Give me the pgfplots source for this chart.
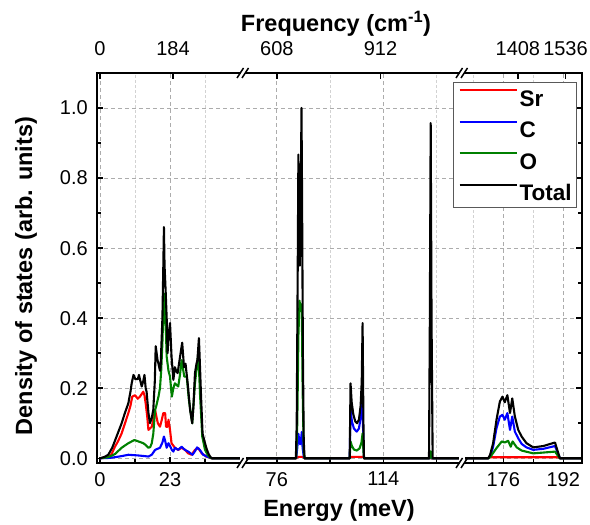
\documentclass[border=0pt]{standalone}
\usepackage{fontspec}
\setmainfont{Liberation Sans}
\usepackage{pgfplots}
\pgfplotsset{compat=1.18}
\definecolor{dosSr}{RGB}{255,0,0}
\definecolor{dosC}{RGB}{0,0,255}
\definecolor{dosO}{RGB}{0,128,0}
\pgfplotsset{
  seg/.style={
    scale only axis, height=390pt, ymin=-0.0135, ymax=1.1,
    anchor=south west,
    axis line style={draw=none},
    xtick pos=left,
    tick align=inside,
    major tick length=6pt, minor tick length=4pt,
    tick style={black, line width=1.5pt},
    ytick={0,0.2,0.4,0.6,0.8,1.0},
    minor ytick={0.1,0.3,0.5,0.7,0.9},
    xmajorgrids, ymajorgrids, xminorgrids,
    major grid style={gray!65, line width=0.8pt, dash pattern=on 4pt off 3pt},
    minor grid style={gray!35, line width=0.8pt, dash pattern=on 3pt off 2pt},
    tick label style={font=\fontsize{20}{24}\selectfont},
    xticklabel style={inner sep=0pt, yshift=-9pt},
    yticklabel style={inner sep=0pt, xshift=-9pt},
    every axis plot/.append style={line width=2.1pt, line join=round},
  },
  topax/.style={
    scale only axis, height=390pt, ymin=-0.0135, ymax=1.1,
    anchor=south west,
    axis line style={draw=none},
    xtick pos=right, xticklabel pos=right,
    ytick=\empty,
    tick align=inside,
    major tick length=6pt,
    tick style={black, line width=1.5pt},
    tick label style={font=\fontsize{20}{24}\selectfont},
    xticklabel style={inner sep=0pt, yshift=17pt},
  },
}
\begin{document}
\begin{tikzpicture}
\useasboundingbox (0,0) rectangle (590pt,525pt);
% ---------------- segment 1 ----------------
\begin{axis}[seg, name=s1, at={(97pt,62pt)}, width=143pt,
  xmin=-1, xmax=46, xtick={0,23}, xticklabels={0,23},
  minor xtick={11.5,34.5},
  ytick pos=left, yticklabels={0.0,0.2,0.4,0.6,0.8,1.0}]
\addplot[dosSr] coordinates {(0,0) (1.5,0.001) (2.7,0.003) (3.8,0.012) (4.9,0.033) (6,0.05) (7.1,0.071) (8.2,0.10) (9.3,0.129) (10.0,0.15) (10.6,0.176) (11.5,0.18) (12.4,0.17) (13.1,0.176) (14.2,0.19) (14.6,0.18) (15.0,0.157) (15.5,0.12) (15.9,0.081) (16.4,0.085) (17.0,0.09) (17.5,0.11) (18.1,0.138) (18.5,0.12) (19.0,0.10) (19.7,0.09) (20.3,0.11) (20.8,0.129) (21.4,0.129) (21.7,0.09) (22.2,0.09) (22.5,0.11) (23.0,0.081) (23.5,0.043) (24.6,0.03) (25.7,0.024) (26.8,0.03) (27.9,0.024) (29.0,0.014) (30.1,0.01) (31.2,0.024) (32.3,0.029) (33.4,0.014) (35.0,0.005) (36.2,0.001) (36.8,0) (46,0)};
\addplot[dosC] coordinates {(0,0) (3,0.001) (4.9,0.003) (7,0.006) (9.3,0.01) (12.6,0.008) (15.9,0.005) (17.0,0.01) (18.1,0.024) (19.7,0.03) (20.5,0.045) (21.0,0.062) (21.4,0.05) (21.9,0.03) (22.5,0.043) (23.0,0.035) (23.6,0.024) (24.1,0.019) (24.6,0.03) (25.7,0.024) (26.8,0.033) (27.9,0.024) (29.0,0.019) (30.4,0.01) (31.2,0.02) (31.9,0.031) (32.8,0.024) (33.9,0.01) (35.6,0.003) (36.8,0) (46,0)};
\addplot[dosO] coordinates {(0,0) (2.7,0.003) (4.9,0.012) (7.1,0.03) (9.3,0.043) (10.4,0.048) (11.3,0.052) (12.0,0.05) (12.6,0.048) (13.3,0.046) (14.2,0.043) (15.0,0.038) (15.9,0.03) (16.5,0.032) (17.0,0.043) (17.5,0.07) (18.1,0.138) (18.5,0.15) (19.2,0.176) (19.7,0.2) (20.1,0.25) (20.5,0.33) (20.8,0.42) (21.1,0.47) (21.4,0.40) (21.7,0.35) (21.9,0.29) (22.5,0.25) (23.0,0.233) (23.4,0.195) (23.6,0.176) (24.1,0.2) (24.6,0.214) (25.7,0.205) (26.3,0.24) (26.8,0.28) (27.7,0.233) (28.5,0.233) (29.2,0.167) (30.3,0.10) (31.2,0.214) (32.3,0.30) (32.9,0.176) (33.6,0.062) (34.5,0.024) (35.5,0.008) (36.2,0.002) (36.8,0) (46,0)};
\addplot[black] coordinates {(0,0) (1.5,0.004) (2.7,0.01) (4,0.03) (4.9,0.05) (6,0.075) (7.1,0.10) (8.2,0.13) (9.3,0.157) (10.0,0.19) (10.4,0.214) (11.0,0.238) (11.6,0.226) (12.0,0.226) (12.4,0.226) (12.8,0.238) (13.1,0.226) (13.7,0.205) (14.2,0.22) (14.6,0.238) (15.0,0.2) (15.3,0.19) (15.9,0.13) (16.4,0.10) (17.0,0.115) (17.5,0.138) (18.0,0.22) (18.3,0.32) (18.9,0.28) (19.2,0.27) (19.7,0.25) (19.9,0.26) (20.5,0.40) (20.8,0.55) (21.0,0.66) (21.2,0.55) (21.6,0.47) (21.9,0.40) (22.2,0.30) (22.5,0.35) (23.0,0.386) (23.5,0.29) (24.1,0.224) (24.6,0.26) (25.0,0.25) (25.5,0.243) (26.3,0.29) (27.0,0.33) (27.6,0.26) (28.1,0.27) (28.8,0.214) (29.6,0.138) (30.3,0.10) (30.7,0.15) (31.2,0.243) (31.7,0.27) (32.0,0.28) (32.5,0.343) (32.9,0.25) (33.2,0.176) (33.7,0.07) (34.5,0.043) (35.1,0.025) (35.6,0.014) (36.2,0.004) (36.8,0) (46,0)};
\end{axis}
% ---------------- segment 2 ----------------
\begin{axis}[seg, name=s2, at={(246pt,62pt)}, width=213pt,
  xmin=65, xmax=141, xtick={76,114}, xticklabels={76,114},
  minor xtick={95,133},
  ytick style={draw=none}, yticklabels={}]
\addplot[dosSr] coordinates {(65,0) (83.0,0) (83.3,0.004) (85.5,0.004) (85.8,0) (102.0,0) (102.3,0.004) (106.8,0.004) (107.1,0) (141,0)};
\addplot[dosC] coordinates {(65,0) (82.9,0) (83.3,0.03) (83.7,0.07) (84.0,0.05) (84.3,0.04) (84.6,0.05) (84.9,0.075) (85.2,0.03) (85.6,0.005) (85.9,0) (102.0,0) (102.3,0.138) (102.8,0.105) (103.5,0.085) (104.5,0.076) (105.3,0.085) (106.0,0.12) (106.5,0.157) (106.9,0.05) (107.1,0) (130.6,0) (130.9,0.01) (131.2,0) (141,0)};
\addplot[dosO] coordinates {(65,0) (82.9,0) (83.3,0.1) (83.7,0.35) (84.1,0.45) (84.5,0.42) (84.9,0.44) (85.2,0.2) (85.6,0.02) (85.9,0) (102.0,0) (102.3,0.048) (102.8,0.035) (103.5,0.025) (104.5,0.022) (105.5,0.028) (106.2,0.045) (106.6,0.071) (106.9,0.02) (107.1,0) (130.5,0) (130.9,0.02) (131.3,0) (141,0)};
\addplot[black] coordinates {(65,0) (82.8,0) (83.1,0.1) (83.5,0.6) (83.7,0.867) (83.9,0.6) (84.2,0.55) (84.5,0.7) (84.8,1.0) (85.0,0.75) (85.3,0.3) (85.6,0.05) (85.9,0) (102.0,0) (102.3,0.214) (102.7,0.16) (103.3,0.125) (104.0,0.105) (104.6,0.10) (105.3,0.11) (105.9,0.15) (106.3,0.22) (106.6,0.386) (106.9,0.1) (107.1,0) (130.3,0) (130.6,0.4) (130.9,0.957) (131.2,0.4) (131.6,0) (141,0)};
\end{axis}
% ---------------- segment 3 ----------------
\begin{axis}[seg, name=s3, at={(465pt,62pt)}, width=117pt,
  xmin=165.8, xmax=197, xtick={176,192}, xticklabels={176,192},
  minor xtick={168,184},
  ytick pos=right, yticklabels={},
  legend style={at={(1,1)}, anchor=north east, xshift=-5pt, yshift=-9pt,
    draw=black!65, line width=0.8pt, fill=white,
    inner xsep=5pt, inner ysep=7pt, row sep=14.3pt, column sep=2pt,
    font=\fontsize{22.5}{24}\selectfont\bfseries,
    nodes={inner sep=0pt, text height=16.5pt, text depth=0pt}},
  legend cell align=left,
  legend image code/.code={\draw[#1, line width=1.8pt] (0pt,8pt) -- (57pt,8pt);}]
\addplot[dosSr] coordinates {(165.8,0) (172.0,0) (172.3,0.003) (190.8,0.003) (191.1,0) (197,0)};
\addlegendentry{Sr}
\addplot[dosC] coordinates {(165.8,0) (172.0,0) (172.5,0.005) (173.3,0.033) (174.2,0.086) (175.1,0.119) (175.8,0.124) (176.4,0.11) (177.1,0.129) (177.8,0.081) (178.4,0.119) (179.1,0.076) (180.0,0.057) (180.9,0.041) (182.2,0.031) (184.0,0.024) (186.7,0.027) (189.8,0.035) (190.4,0.019) (191.1,0) (197,0)};
\addlegendentry{C}
\addplot[dosO] coordinates {(165.8,0) (172.0,0) (172.5,0.003) (174.2,0.029) (175.6,0.048) (176.4,0.045) (177.3,0.05) (178.0,0.033) (178.5,0.048) (179.6,0.031) (180.9,0.022) (184.0,0.014) (189.8,0.019) (190.4,0.01) (191.1,0) (197,0)};
\addlegendentry{O}
\addplot[black] coordinates {(165.8,0) (172.0,0) (172.5,0.01) (173.3,0.043) (174.2,0.11) (175.1,0.162) (175.8,0.176) (176.4,0.16) (177.1,0.18) (177.8,0.129) (178.4,0.171) (179.1,0.119) (180.0,0.081) (180.9,0.062) (182.2,0.043) (184.0,0.031) (186.7,0.035) (189.8,0.045) (190.4,0.024) (191.1,0) (197,0)};
\addlegendentry{Total}
\end{axis}
% ---------------- top (frequency) axes ----------------
\begin{axis}[topax, at={(97pt,62pt)}, width=143pt, xmin=-1, xmax=46,
  xtick={0,24}, xticklabels={0,184}]
\end{axis}
\begin{axis}[topax, at={(246pt,62pt)}, width=213pt, xmin=65, xmax=141,
  xtick={76,113}, xticklabels={608,912}]
\end{axis}
\begin{axis}[topax, at={(465pt,62pt)}, width=117pt, xmin=165.8, xmax=197,
  xtick={179.9,192.6}, xticklabels={1408,1536}]
\end{axis}
% ---------------- frames ----------------
\begin{scope}[line width=2.5pt, line cap=rect]
\draw (s1.south east) -- (s1.south west) -- (s1.north west) -- (s1.north east);
\draw (s2.south west) -- (s2.south east);
\draw (s2.north west) -- (s2.north east);
\draw (s3.south west) -- (s3.south east) -- (s3.north east) -- (s3.north west);
\end{scope}
% break marks
\begin{scope}[line width=1.5pt]
\foreach \cx in {243,462}{
  \foreach \yy in {62,452}{
    \draw (\cx pt-6pt,\yy pt-5pt) -- (\cx pt+0.5pt,\yy pt+5pt);
    \draw (\cx pt-1pt,\yy pt-5pt) -- (\cx pt+5.5pt,\yy pt+5pt);
  }
}
\end{scope}
% ---------------- labels ----------------
\node[font=\fontsize{23.5}{26}\selectfont\bfseries, anchor=base] at (339pt,8.5pt) {Energy (meV)};
\node[font=\fontsize{23.5}{26}\selectfont\bfseries, anchor=base] at (336pt,493pt) {Frequency (cm\textsuperscript{-1})};
\node[font=\fontsize{23.5}{26}\selectfont\bfseries, rotate=90, anchor=base] at (32pt,249pt) {Density of states (arb. units)};
\end{tikzpicture}
\end{document}
